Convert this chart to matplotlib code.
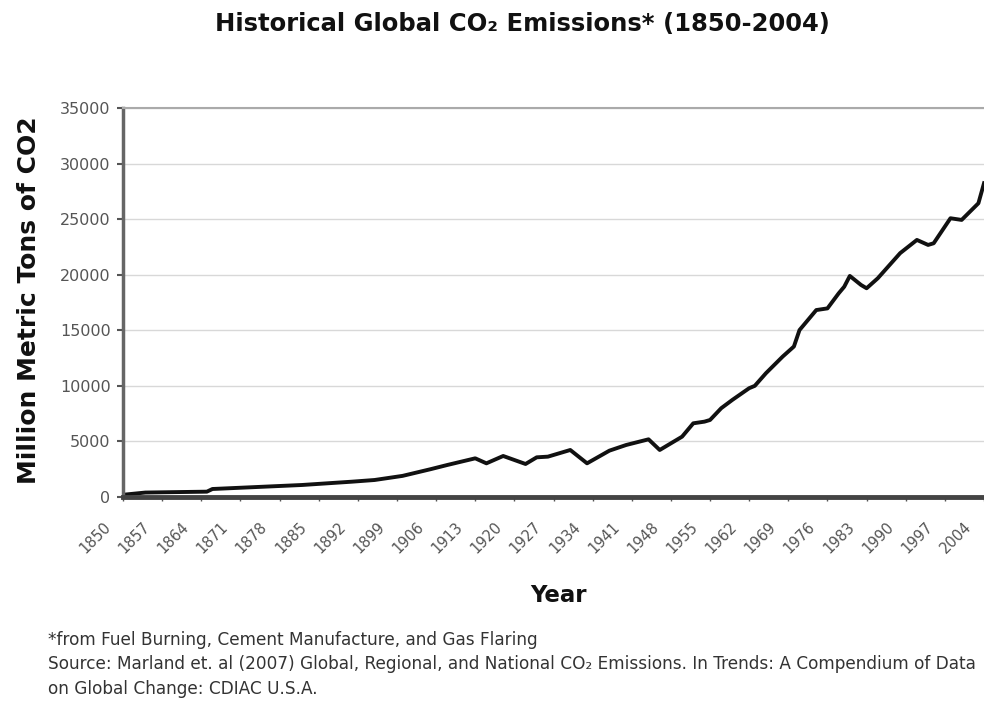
import matplotlib
matplotlib.use("Agg")
import matplotlib.pyplot as plt
import matplotlib.transforms as mtransforms

years = [1850, 1854, 1865, 1866, 1882, 1891, 1895, 1900, 1905, 1908, 1913, 1915,
         1918, 1920, 1922, 1924, 1926, 1930, 1933, 1937, 1940, 1944, 1946, 1949,
         1950, 1952, 1954, 1955, 1957, 1959, 1962, 1963, 1965, 1968, 1970, 1971,
         1974, 1976, 1978, 1979, 1980, 1982, 1983, 1985, 1989, 1992, 1994, 1995,
         1998, 2000, 2003, 2004]
emissions = [200, 400, 480, 720, 1080, 1380, 1530, 1900, 2500, 2880, 3480, 3030,
             3690, 3330, 2970, 3570, 3630, 4230, 3030, 4170, 4680, 5190, 4230, 5130,
             5430, 6630, 6780, 6930, 7990, 8740, 9790, 10000, 11140, 12640, 13540, 15020,
             16820, 16970, 18320, 18920, 19890, 19080, 18780, 19680, 21940, 23130, 22680, 22830,
             25080, 24930, 26430, 28230]

xtick_years = list(range(1850, 2005, 7))
ytick_vals = list(range(0, 35001, 5000))

title = "Historical Global CO\u2082 Emissions* (1850-2004)"
ylabel = "Million Metric Tons of CO2"
xlabel = "Year"
notes = ["*from Fuel Burning, Cement Manufacture, and Gas Flaring",
         "Source: Marland et. al (2007) Global, Regional, and National CO\u2082 Emissions. In Trends: A Compendium of Data",
         "on Global Change: CDIAC U.S.A."]

plt.rcParams['font.family'] = ['DejaVu Sans']

fig = plt.figure(figsize=(9.84, 7.09), dpi=100)
ax = fig.add_axes([123/984, 1-497/709, 1-123/984, (497-108)/709])

ax.plot(years, emissions, color='#111111', lw=2.8, solid_joinstyle='round')
ax.set_xlim(1850, 2004)
ax.set_ylim(0, 35000)
ax.set_yticks(ytick_vals)
ax.set_yticklabels([str(v) for v in ytick_vals], fontsize=11.5, color='#555555')
ax.set_xticks(xtick_years)
ax.set_xticklabels([str(y) for y in xtick_years], rotation=45, ha='right',
                   rotation_mode='anchor', fontsize=10.5, color='#555555')
ax.yaxis.grid(True, color='#d8d8d8', lw=1)
ax.set_axisbelow(True)
ax.spines['left'].set_color('#666666')
ax.spines['left'].set_linewidth(2.5)
ax.spines['bottom'].set_color('#444444')
ax.spines['bottom'].set_linewidth(3.5)
ax.spines['top'].set_color('#aaaaaa')
ax.spines['top'].set_linewidth(1.5)
ax.spines['right'].set_visible(False)
ax.tick_params(axis='y', length=4, width=1.5, color='#555555', pad=5)
ax.tick_params(axis='x', length=3, width=1, color='#555555', pad=13)

offset = mtransforms.ScaledTranslation(-20/100, 0, fig.dpi_scale_trans)
for lab in ax.xaxis.get_majorticklabels():
    lab.set_transform(lab.get_transform() + offset)

fig.text(522/984, 1-24/709, title, ha='center', va='center', fontsize=17.5, fontweight='bold', color='#111111')
fig.text(29/984, 1-300/709, ylabel, ha='center', va='center', rotation=90, fontsize=18, fontweight='bold', color='#111111')
fig.text(558/984, 1-595/709, xlabel, ha='center', va='center', fontsize=16.5, fontweight='bold', color='#111111')
for n, yy in zip(notes, [640, 664, 689]):
    fig.text(48/984, 1-yy/709, n, ha='left', va='center', fontsize=12.2, color='#333333')

fig.savefig("out.png", dpi=100)
